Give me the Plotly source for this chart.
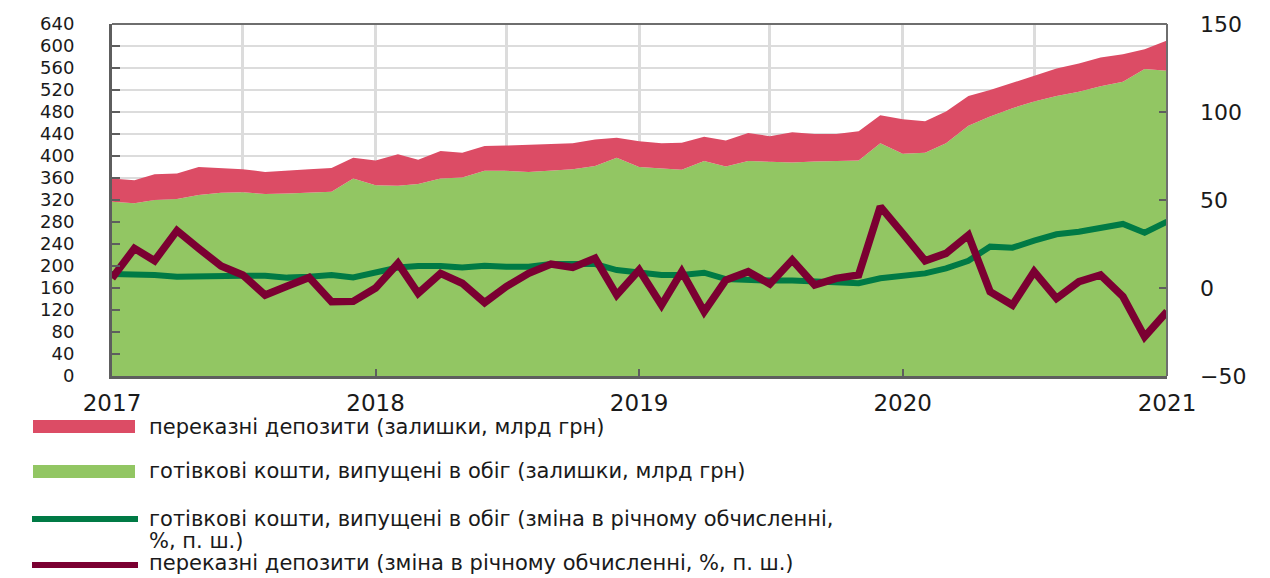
import pandas as pd
import plotly.graph_objects as go

# ---- data (monthly, Jan 2017 .. Jan 2021) ----
months = pd.date_range("2017-01-01", periods=49, freq="MS")

cash_stock = [317, 314, 320, 322, 329, 333, 334, 331, 332, 334, 335, 359,
              347, 346, 349, 359, 361, 373, 373, 371, 373, 376, 382, 397,
              380, 377, 375, 391, 381, 391, 390, 388, 390, 391, 392, 423,
              404, 406, 423, 455, 472, 487, 499, 509, 517, 527, 535, 558,
              555]

deposits_stock = [42, 42, 47, 46, 51, 45, 42, 40, 42, 42, 43, 38,
                  45, 57, 44, 50, 45, 45, 46, 49, 49, 47, 48, 36,
                  47, 46, 49, 44, 47, 51, 46, 55, 50, 49, 53, 51,
                  63, 57, 58, 54, 48, 46, 48, 50, 51, 52, 50, 36,
                  55]

cash_yoy = [8.0, 7.8, 7.4, 6.4, 6.8, 7.2, 7.0, 7.0, 5.9, 6.4, 7.4, 6.0,
            9.0, 11.6, 12.5, 12.5, 11.6, 12.7, 12.1, 12.1, 13.6, 13.6, 13.6, 10.2,
            9.0, 7.4, 7.4, 8.7, 5.1, 4.5, 4.2, 4.2, 3.6, 3.0, 2.7, 5.5,
            7.0, 8.3, 11.2, 15.5, 23.5, 22.9, 26.9, 30.5, 32.0, 34.5, 36.4, 31.4,
            37.7]

deposits_yoy = [5.5, 22.5, 15.5, 32.6, 22.5, 12.5, 7.4, -4.0, 1.1, 6.0, -7.8, -7.6,
                0.0, 14.0, -3.0, 8.3, 2.7, -8.3, 0.8, 8.3, 13.6, 11.7, 16.9, -4.0,
                10.2, -9.7, 9.3, -13.4, 4.5, 9.3, 2.3, 15.9, 1.7, 5.5, 7.4, 46.2,
                31.0, 15.5, 19.7, 30.0, -2.1, -9.7, 9.3, -5.9, 3.6, 7.4, -4.9, -27.7,
                -13.4]

year_ticks = ["2017-01-01", "2018-01-01", "2019-01-01", "2020-01-01", "2021-01-01"]
year_labels = ["2017", "2018", "2019", "2020", "2021"]

legend_labels = [
    "переказні депозити (залишки, млрд грн)",
    "готівкові кошти, випущені в обіг (залишки, млрд грн)",
    "готівкові кошти, випущені в обіг (зміна в річному обчисленні,",
    "%, п. ш.)",
    "переказні депозити (зміна в річному обчисленні, %, п. ш.)",
]

# ---- styles ----
RED = "#DC4C65"
LGREEN = "#92C663"
DGREEN = "#007A45"
MAROON = "#7B0032"
AXIS = "#5E5E5E"
GRID = "#DCDCDC"
TXT = "#1A1A1A"
FONT = "DejaVu Sans, Liberation Sans, Arial, sans-serif"

# page has an 8px body margin: lay the figure out in page coordinates minus 8
OFF = 8
W, H = 1270 - OFF, 578 - OFF
L, R, T, B = 112 - OFF, 1167 - OFF, 24 - OFF, 376 - OFF


def px(x):  # page x -> paper x
    return (x - OFF - L) / (R - L)


def py(y):  # page y -> paper y
    return (B - (y - OFF)) / (B - T)


fig = go.Figure()
fig.add_trace(go.Scatter(x=months, y=cash_stock, stackgroup="s", mode="lines",
                         line=dict(width=0, color=LGREEN), fillcolor=LGREEN,
                         name=legend_labels[1], hoverinfo="skip"))
fig.add_trace(go.Scatter(x=months, y=deposits_stock, stackgroup="s", mode="lines",
                         line=dict(width=0, color=RED), fillcolor=RED,
                         name=legend_labels[0], hoverinfo="skip"))
fig.add_trace(go.Scatter(x=months, y=cash_yoy, yaxis="y2", mode="lines",
                         line=dict(width=6, color=DGREEN), name=legend_labels[2]))
fig.add_trace(go.Scatter(x=months, y=deposits_yoy, yaxis="y2", mode="lines",
                         line=dict(width=7.5, color=MAROON), name=legend_labels[4]))

shapes = [
    # frame top / right
    dict(type="line", xref="paper", yref="paper", x0=0, x1=1, y0=1, y1=1,
         line=dict(color="#6E6E6E", width=2), layer="above"),
    dict(type="line", xref="paper", yref="paper", x0=1, x1=1, y0=0, y1=1,
         line=dict(color="#6E6E6E", width=2), layer="above"),
    # legend swatches
    dict(type="rect", xref="paper", yref="paper", x0=px(33), x1=px(135),
         y0=py(433), y1=py(420), fillcolor=RED, line=dict(width=0)),
    dict(type="rect", xref="paper", yref="paper", x0=px(33), x1=px(135),
         y0=py(478), y1=py(465), fillcolor=LGREEN, line=dict(width=0)),
    dict(type="line", xref="paper", yref="paper", x0=px(32), x1=px(138),
         y0=py(519), y1=py(519), line=dict(color=DGREEN, width=6)),
    dict(type="line", xref="paper", yref="paper", x0=px(32), x1=px(138),
         y0=py(565), y1=py(565), line=dict(color=MAROON, width=6)),
]

ann_rows = [(legend_labels[0], 427), (legend_labels[1], 471),
            (legend_labels[2], 519), (legend_labels[3], 541),
            (legend_labels[4], 563)]
annotations = [dict(text=t, xref="paper", yref="paper", x=px(147), y=py(yy),
                    xanchor="left", yanchor="middle", showarrow=False,
                    font=dict(size=21, color=TXT, family=FONT))
               for t, yy in ann_rows]

fig.update_layout(
    width=W, height=H,
    margin=dict(l=L, r=W - R, t=T, b=H - B, autoexpand=False),
    paper_bgcolor="white", plot_bgcolor="white",
    showlegend=False,
    font=dict(family=FONT, color=TXT, size=21),
    shapes=shapes, annotations=annotations,
    xaxis=dict(
        type="date", range=["2017-01-01", "2021-01-01"],
        tickvals=year_ticks, ticktext=year_labels,
        showgrid=True, gridcolor=GRID, gridwidth=3,
        minor=dict(dtick="M6", tick0="2017-01-01", showgrid=True,
                   gridcolor=GRID, gridwidth=3, ticklen=0),
        ticks="inside", ticklen=7, tickwidth=2, tickcolor=AXIS,
        showline=True, linecolor=AXIS, linewidth=3,
        tickfont=dict(size=23, color=TXT), ticklabelstandoff=4,
        zeroline=False, layer="above traces", automargin=False,
    ),
    yaxis=dict(
        range=[0, 640], dtick=40, tick0=0,
        showgrid=True, gridcolor=GRID, gridwidth=1.5,
        ticks="inside", ticklen=8, tickwidth=2, tickcolor=AXIS,
        showline=True, linecolor=AXIS, linewidth=3,
        tickfont=dict(size=18, color=TXT), ticklabelstandoff=31,
        zeroline=False, layer="above traces", automargin=False,
    ),
    yaxis2=dict(
        overlaying="y", side="right", range=[-50, 150], dtick=50, tick0=-50,
        showgrid=False, zeroline=False,
        ticks="inside", ticklen=8, tickwidth=2, tickcolor=AXIS,
        showline=False, automargin=False,
        tickfont=dict(size=22, color=TXT), ticklabelstandoff=32,
    ),
)

fig.write_html("out.html")
